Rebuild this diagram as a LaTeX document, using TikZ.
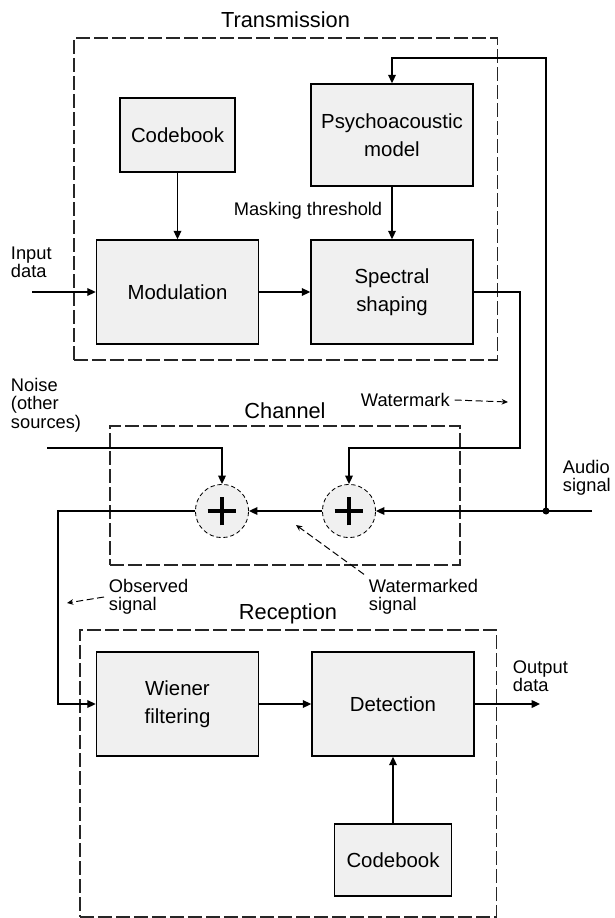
\documentclass[tikz,border=0pt]{standalone}
\usepackage{fontspec}
\setmainfont{Liberation Sans}
\usetikzlibrary{arrows.meta, positioning}
\definecolor{boxgray}{RGB}{240,240,240}

\begin{document}
\begin{tikzpicture}[
    x=0.025cm, y=-0.025cm,
    block/.style={rectangle, draw=black, fill=boxgray, line width=1.1pt, inner sep=0pt,
                  minimum width=4.05cm, minimum height=2.6cm, align=center,
                  font=\fontsize{14.5}{20}\selectfont},
    group/.style={rectangle, draw=black!85, line width=0.8pt, inner sep=0pt,
                  dash pattern=on 0.35cm off 0.1cm},
    sum/.style={circle, draw=black, fill=boxgray, line width=0.6pt, densely dashed,
                minimum size=1.33cm, inner sep=0pt,
                path picture={\draw[line width=2.2pt, solid]
                    ([xshift=-0.36cm]path picture bounding box.center) -- ++(0.72cm,0)
                    ([yshift=-0.36cm]path picture bounding box.center) -- ++(0,0.72cm);}},
    title/.style={font=\fontsize{15.5}{18}\selectfont},
    note/.style={align=left, font=\fontsize{13}{13}\selectfont},
    arrow/.style={-{Triangle[length=6pt, width=5.5pt]}, line width=1pt},
    pointer/.style={-{Stealth[length=4.5pt, width=4pt]}, line width=0.7pt,
                    dash pattern=on 5pt off 2.5pt},
]
\useasboundingbox (0,0) rectangle (615,918);

%% transmission
\node[group, minimum width=10.575cm, minimum height=8.05cm] (trans) at (285.5,199) {};
\node[title, above=3pt of trans] (ttrans) {Transmission};
\node[block, minimum width=2.875cm, minimum height=1.85cm] (code1) at (177.5,135) {Codebook};
\node[block, minimum height=2.55cm] (psy) at (392,135) {Psychoacoustic\\model};
\node[block] (mod) at (177.5,292) {Modulation};
\node[block] (spec) at (392,292) {Spectral\\shaping};
\node[note] (mask) at (308,211) {Masking threshold};
\node[note, anchor=west] (input) at (6,262) {Input\\data};

%% channel
\node[group, minimum width=8.75cm, minimum height=3.475cm] (chan) at (285,495.5) {};
\node[title, above=1.5pt of chan] (tchan) {Channel};
\node[sum] (sumL) at (222,511) {};
\node[sum] (sumR) at (349,511) {};
\node[note, anchor=west] (noise) at (6,405) {Noise\\(other\\sources)};
\node[note, anchor=west] (wmlabel) at (356,400) {Watermark};
\node[note, anchor=west] (audio) at (558,478) {Audio\\signal};
\node[note, anchor=west] (obslabel) at (104,597) {Observed\\signal};
\node[note, anchor=west] (wmdlabel) at (364,597) {Watermarked\\signal};

%% reception
\node[group, minimum width=10.4cm, minimum height=7.175cm] (recep) at (288,773.5) {};
\node[title, above=0pt of recep] (trecep) {Reception};
\node[block] (wiener) at (177.5,704) {Wiener\\filtering};
\node[block] (det) at (393,704) {Detection};
\node[block, minimum width=2.925cm, minimum height=1.8cm] (code2) at (393,860) {Codebook};
\node[note, anchor=west] (outlabel) at (508,676) {Output\\data};

%% free ends and corners
\coordinate (datain) at (32,292);
\coordinate (noisein) at (47,448);
\coordinate (audioin) at (592,511);
\coordinate (tap) at (546,511);
\coordinate (fb) at (546,58);
\coordinate (wm) at (520,448);
\coordinate (obs) at (58,511);
\coordinate (dataout) at (540,704);
\coordinate (wmtip) at (508,402);
\coordinate (obstip) at (67,603);
\coordinate (wmdtip) at (296,525);

\draw[arrow] (datain) -- (mod);
\draw[arrow] (code1) -- (mod);
\draw[arrow] (psy) -- (spec);
\draw[arrow] (mod) -- (spec);
\draw[arrow] (spec.east) -| (wm) -| (sumR.north);
\draw[arrow] (noisein) -| (sumL.north);
\draw[arrow] (audioin) -- (sumR.east);
\draw[arrow] (tap) -- (fb) -| (psy.north);
\fill (tap) circle (3.5);
\draw[arrow] (sumR) -- (sumL);
\draw[arrow] (sumL.west) -- (obs) |- (wiener.west);
\draw[arrow] (wiener) -- (det);
\draw[arrow] (det.east) -- (dataout);
\draw[arrow] (code2) -- (det);

%% label pointers
\draw[pointer] (wmlabel.east) -- (wmtip);
\draw[pointer] (obslabel.west) -- (obstip);
\draw[pointer] (wmdlabel.north west) -- (wmdtip);
\end{tikzpicture}
\end{document}
